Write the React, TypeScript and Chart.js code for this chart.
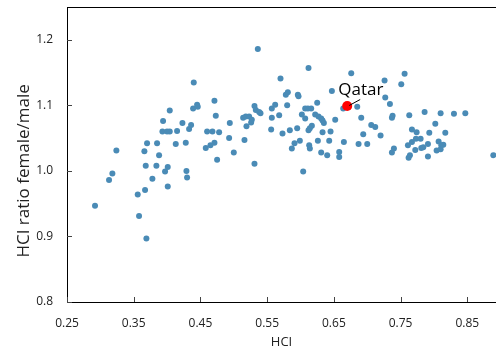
import React, { useEffect, useRef } from "react";
import { Chart, registerables } from "chart.js";

Chart.register(...registerables);

// Countries: Human Capital Index (x) vs female/male HCI ratio (y)
const hci = [
  0.292, 0.313, 0.318, 0.324, 0.356, 0.358, 0.369, 0.367, 0.366, 0.368,
  0.370, 0.378, 0.384, 0.385, 0.388, 0.393, 0.394, 0.397, 0.401, 0.401,
  0.400, 0.404, 0.404, 0.413, 0.415, 0.423, 0.428, 0.429, 0.430, 0.433,
  0.436, 0.439, 0.440, 0.445, 0.446, 0.458, 0.460, 0.465, 0.468, 0.471,
  0.471, 0.473, 0.475, 0.478, 0.493, 0.494, 0.500, 0.514, 0.518, 0.523,
  0.527, 0.526, 0.519, 0.516, 0.531, 0.531, 0.533, 0.538, 0.540, 0.536,
  0.557, 0.557, 0.556, 0.562, 0.568, 0.570, 0.573, 0.578, 0.581, 0.580,
  0.584, 0.587, 0.591, 0.595, 0.596, 0.597, 0.599, 0.602, 0.604, 0.607,
  0.607, 0.611, 0.612, 0.612, 0.614, 0.617, 0.616, 0.613, 0.614, 0.622,
  0.625, 0.626, 0.627, 0.631, 0.633, 0.635, 0.631, 0.633, 0.640, 0.643,
  0.645, 0.647, 0.652, 0.658, 0.658, 0.664, 0.665, 0.676, 0.685, 0.687,
  0.691, 0.694, 0.700, 0.706, 0.712, 0.720, 0.726, 0.727, 0.734, 0.738,
  0.737, 0.740, 0.737, 0.751, 0.756, 0.761, 0.763, 0.767, 0.767, 0.764,
  0.762, 0.772, 0.773, 0.774, 0.780, 0.781, 0.784, 0.786, 0.791, 0.791,
  0.793, 0.802, 0.804, 0.807, 0.810, 0.811, 0.814, 0.810, 0.817, 0.830,
  0.847, 0.889,
];

const ratio = [
  0.947, 0.986, 0.996, 1.031, 0.964, 0.931, 0.897, 0.971, 1.030, 1.008,
  1.042, 0.988, 1.008, 1.042, 1.024, 1.060, 1.076, 0.999, 1.006, 0.976,
  1.060, 1.060, 1.092, 1.041, 1.061, 1.073, 1.043, 1.000, 0.990, 1.064,
  1.070, 1.095, 1.135, 1.101, 1.098, 1.035, 1.060, 1.039, 1.060, 1.043,
  1.107, 1.084, 1.017, 1.059, 1.050, 1.073, 1.028, 1.081, 1.083, 1.083,
  1.078, 1.074, 1.068, 1.047, 1.011, 1.099, 1.093, 1.090, 1.088, 1.186,
  1.095, 1.081, 1.063, 1.101, 1.085, 1.141, 1.057, 1.116, 1.120, 1.100,
  1.062, 1.034, 1.042, 1.065, 1.116, 1.114, 1.046, 1.086, 0.999, 1.095,
  1.080, 1.095, 1.157, 1.062, 1.065, 1.069, 1.095, 1.039, 1.034, 1.086,
  1.104, 1.046, 1.083, 1.080, 1.077, 1.073, 1.028, 1.059, 1.024, 1.046,
  1.060, 1.122, 1.078, 1.029, 1.021, 1.095, 1.044, 1.149, 1.098, 1.041,
  1.081, 1.056, 1.041, 1.070, 1.067, 1.054, 1.138, 1.112, 1.102, 1.084,
  1.081, 1.034, 1.028, 1.132, 1.148, 1.039, 1.085, 1.063, 1.044, 1.024,
  1.020, 1.032, 1.049, 1.059, 1.049, 1.035, 1.036, 1.090, 1.041, 1.022,
  1.058, 1.072, 1.031, 1.045, 1.033, 1.039, 1.040, 1.088, 1.058, 1.087,
  1.088, 1.024,
];

const highlightName = "Qatar";
const highlightHci = [0.67];
const highlightRatio = [1.099];

const xTicks = [0.25, 0.35, 0.45, 0.55, 0.65, 0.75, 0.85];
const yTicks = [0.8, 0.9, 1.0, 1.1, 1.2];
const xTitle = "HCI";
const yTitle = "HCI ratio female/male";

const FONT = "'Open Sans', 'Noto Sans', sans-serif";

const framePlugin = {
  id: "frame",
  afterDatasetsDraw(chart: any) {
    const { ctx, chartArea, scales } = chart;
    const x = scales.x;
    const y = scales.y;
    ctx.save();
    // top frame line
    ctx.strokeStyle = "#000";
    ctx.lineWidth = 1;
    ctx.beginPath();
    ctx.moveTo(chartArea.left, chartArea.top + 0.5);
    ctx.lineTo(chartArea.right, chartArea.top + 0.5);
    ctx.stroke();
    // inner tick marks
    ctx.strokeStyle = "#444";
    ctx.beginPath();
    xTicks.forEach((v) => {
      const px = Math.round(x.getPixelForValue(v)) + 0.5;
      ctx.moveTo(px, chartArea.bottom);
      ctx.lineTo(px, chartArea.bottom - 5);
    });
    yTicks.forEach((v) => {
      const py = Math.round(y.getPixelForValue(v)) + 0.5;
      ctx.moveTo(chartArea.left, py);
      ctx.lineTo(chartArea.left + 5, py);
    });
    ctx.stroke();
    // highlight annotation
    const hx = x.getPixelForValue(highlightHci[0]);
    const hy = y.getPixelForValue(highlightRatio[0]);
    ctx.strokeStyle = "#000";
    ctx.lineWidth = 1;
    ctx.beginPath();
    ctx.moveTo(hx + 13, hy - 6.5);
    ctx.lineTo(hx + 2, hy - 0.5);
    ctx.stroke();
    ctx.fillStyle = "#000";
    ctx.font = `17px ${FONT}`;
    ctx.textAlign = "left";
    ctx.textBaseline = "alphabetic";
    ctx.fillText(highlightName, hx - 9, hy - 11);
    // y axis title
    ctx.save();
    ctx.translate(24, y.getPixelForValue(1.0));
    ctx.rotate(-Math.PI / 2);
    ctx.fillStyle = "#222";
    ctx.font = `17px ${FONT}`;
    ctx.textAlign = "center";
    ctx.textBaseline = "middle";
    ctx.fillText(yTitle, 0, 0);
    ctx.restore();
    ctx.restore();
  },
};

export default function App() {
  const canvasRef = useRef<HTMLCanvasElement | null>(null);

  useEffect(() => {
    if (!canvasRef.current) return;
    const chart = new Chart(canvasRef.current, {
      type: "scatter",
      data: {
        datasets: [
          {
            label: highlightName,
            data: highlightHci.map((v, i) => ({ x: v, y: highlightRatio[i] })),
            backgroundColor: "#ff0000",
            borderColor: "#ff0000",
            borderWidth: 0,
            pointRadius: 5,
          },
          {
            label: "Countries",
            data: hci.map((v, i) => ({ x: v, y: ratio[i] })),
            backgroundColor: "#4a8bb6",
            borderColor: "#4a8bb6",
            borderWidth: 0,
            pointRadius: 3,
          },
        ],
      },
      options: {
        animation: false,
        responsive: false,
        maintainAspectRatio: false,
        layout: { autoPadding: false, padding: { top: 7, left: 0, right: 0, bottom: 0 } },
        plugins: {
          legend: { display: false },
          tooltip: { enabled: false },
        },
        scales: {
          x: {
            type: "linear",
            min: 0.25,
            max: 0.893,
            afterBuildTicks: (scale: any) => {
              scale.ticks = xTicks.map((v) => ({ value: v }));
            },
            afterFit: (scale: any) => {
              scale.height = 49;
              scale.paddingLeft = 0;
              scale.paddingRight = 0;
            },
            grid: { display: false, drawTicks: false },
            border: { display: true, color: "#000", width: 1 },
            ticks: {
              padding: 14,
              color: "#222",
              font: { family: FONT, size: 12 },
              callback: (v: any) => Number(v).toFixed(2),
              maxRotation: 0,
              autoSkip: false,
            },
            title: {
              display: true,
              text: xTitle,
              color: "#222",
              font: { family: FONT, size: 13 },
              padding: { top: 0, bottom: 1 },
            },
          },
          y: {
            type: "linear",
            min: 0.8,
            max: 1.25,
            afterBuildTicks: (scale: any) => {
              scale.ticks = yTicks.map((v) => ({ value: v }));
            },
            afterFit: (scale: any) => {
              scale.width = 67;
              scale.paddingTop = 0;
              scale.paddingBottom = 0;
            },
            grid: { display: false, drawTicks: false },
            border: { display: true, color: "#000", width: 1 },
            ticks: {
              padding: 14,
              color: "#222",
              font: { family: FONT, size: 12 },
              callback: (v: any) => Number(v).toFixed(1),
              autoSkip: false,
            },
            title: { display: false, text: yTitle },
          },
        },
      },
      plugins: [framePlugin],
    });
    return () => chart.destroy();
  }, []);

  return (
    <div style={{ position: "fixed", left: 0, top: 0, width: 496, height: 351, background: "#fff" }}>
      <canvas ref={canvasRef} width={496} height={351} style={{ display: "block" }} />
    </div>
  );
}
